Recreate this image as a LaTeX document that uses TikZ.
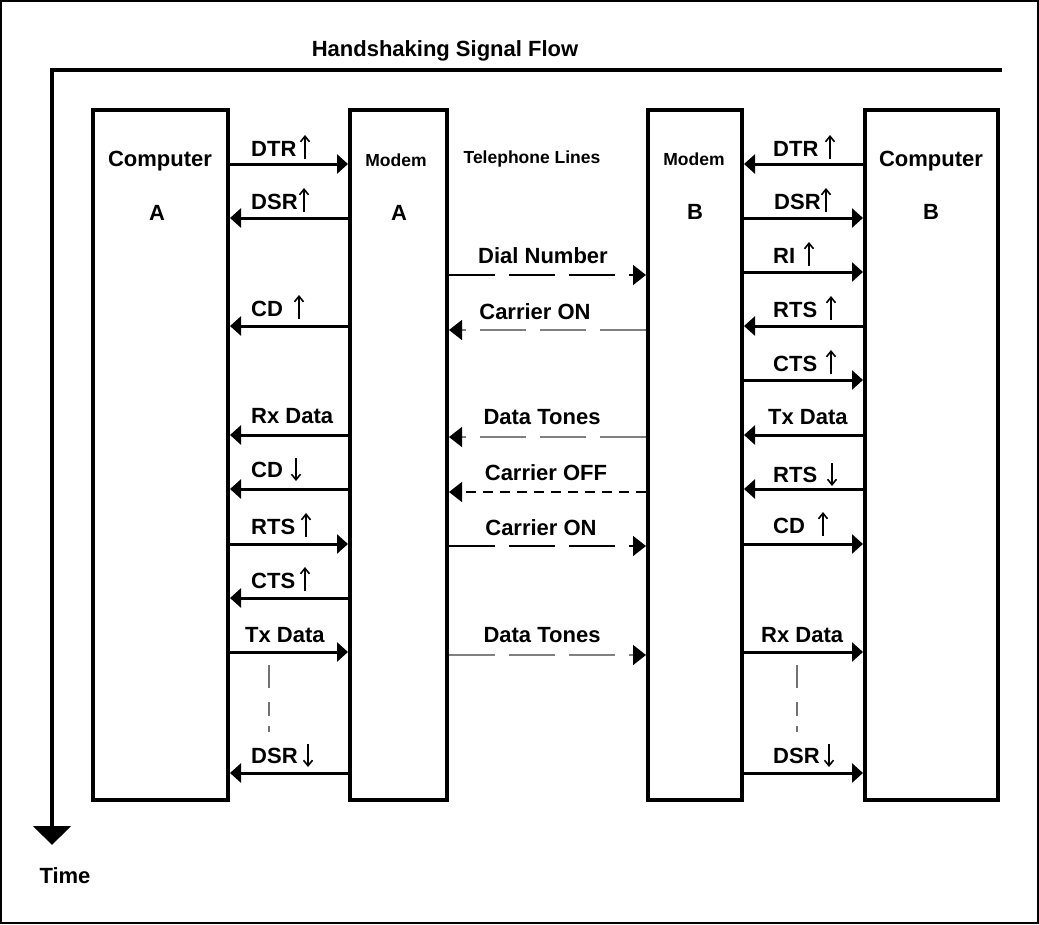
\documentclass[tikz,border=0pt]{standalone}
\usepackage{fontspec}
\setmainfont{Liberation Sans}
\usetikzlibrary{arrows.meta}
\newcommand\myup[2]{\draw[glyph] (#1,#2+3) -- (#1,#2-21);}
\newcommand\mydn[2]{\draw[glyph] (#1,#2-19) -- (#1,#2+4);}
\begin{document}
\begin{tikzpicture}[x=1pt,y=-1pt,
  box/.style={draw,line width=4pt,minimum width=#1,minimum height=690pt,inner sep=0pt},
  big/.style={font=\fontsize{22}{26}\selectfont\bfseries,inner sep=0pt,anchor=base},
  lbl/.style={big,anchor=base west},
  small/.style={font=\fontsize{17.5}{21}\selectfont\bfseries,inner sep=0pt,anchor=base},
  glyph/.style={line width=1.6pt,-{Straight Barb[length=5.5pt,width=9pt]}},
  sig/.style={line width=3pt,-{Triangle[length=11pt,width=19pt]}},
  tel/.style={line width=1.5pt,dash pattern=on 46pt off 14pt,-{Triangle[length=13pt,width=20pt,color=black]}},
  telg/.style={tel,draw=black!50},
  telshort/.style={line width=1.5pt,dash pattern=on 10pt off 7pt,-{Triangle[length=13pt,width=20pt]}},
  vdash/.style={line width=1.5pt,draw=black!55,dash pattern=on 23pt off 14pt on 14pt off 10pt on 6pt off 100pt},
  axis/.style={line width=4.5pt,-{Triangle[length=19pt,width=37pt]}}
]
\useasboundingbox (0,0) rectangle (1039,924);
\draw[line width=2pt] (1,1) rectangle (1038,923);

% time axis
\coordinate (axR) at (1002,70);
\coordinate (axC) at (52,70);
\coordinate (axB) at (52,845);
\draw[axis] (axR) -- (axC) -- (axB);
\node[big] (title) at (445,56) {Handshaking Signal Flow};
\node[big] (time) at (65,883) {Time};

% boxes
\node[box=135pt] (cA) at (160.5,455) {};
\node[box=97pt]  (mA) at (398.5,455) {};
\node[box=94pt]  (mB) at (695,455) {};
\node[box=133pt] (cB) at (931.5,455) {};

\node[big] (cAt) at (160,166) {Computer};
\node[big] (cAl) at (157,220) {A};
\node[small] (mAt) at (396,166) {Modem};
\node[big] (mAl) at (399,220) {A};
\node[small] (tel) at (532,163) {Telephone Lines};
\node[small] (mBt) at (694,165) {Modem};
\node[big] (mBl) at (695,219) {B};
\node[big] (cBt) at (931,166) {Computer};
\node[big] (cBl) at (931,219) {B};

% left side signals
\draw[sig] (cA.east |- 0,164) -- (mA.west |- 0,164);
\node[lbl] (l1) at (251,156) {DTR};
\myup{305}{156}
\draw[sig] (mA.west |- 0,218) -- (cA.east |- 0,218);
\node[lbl] (l2) at (251,209) {DSR};
\myup{304}{209}
\draw[sig] (mA.west |- 0,326) -- (cA.east |- 0,326);
\node[lbl] (l3) at (251,316) {CD};
\myup{299}{316}
\draw[sig] (mA.west |- 0,435) -- (cA.east |- 0,435);
\node[lbl] (l4) at (251,423) {Rx Data};
\draw[sig] (mA.west |- 0,489) -- (cA.east |- 0,489);
\node[lbl] (l5) at (251,477) {CD};
\mydn{296}{477}
\draw[sig] (cA.east |- 0,544) -- (mA.west |- 0,544);
\node[lbl] (l6) at (251,534) {RTS};
\myup{306}{534}
\draw[sig] (mA.west |- 0,598) -- (cA.east |- 0,598);
\node[lbl] (l7) at (251,588) {CTS};
\myup{305}{588}
\draw[sig] (cA.east |- 0,652) -- (mA.west |- 0,652);
\node[lbl] (l8) at (245,642) {Tx Data};
\coordinate (vA1) at (269,665);
\coordinate (vA2) at (269,735);
\draw[vdash] (vA1) -- (vA2);
\draw[sig] (mA.west |- 0,773) -- (cA.east |- 0,773);
\node[lbl] (l9) at (251,763) {DSR};
\mydn{308}{763}

% telephone lines
\draw[tel] (mA.east |- 0,275) -- (mB.west |- 0,275);
\node[big] (m1) at (543,263) {Dial Number};
\draw[telg] (mB.west |- 0,330) -- (mA.east |- 0,330);
\node[big] (m2) at (535,319) {Carrier ON};
\draw[telg] (mB.west |- 0,437) -- (mA.east |- 0,437);
\node[big] (m3) at (542,424) {Data Tones};
\draw[telshort] (mB.west |- 0,492) -- (mA.east |- 0,492);
\node[big] (m4) at (546,480) {Carrier OFF};
\draw[tel] (mA.east |- 0,546) -- (mB.west |- 0,546);
\node[big] (m5) at (541,535) {Carrier ON};
\draw[telg] (mA.east |- 0,655) -- (mB.west |- 0,655);
\node[big] (m6) at (542,642) {Data Tones};

% right side signals
\draw[sig] (cB.west |- 0,164) -- (mB.east |- 0,164);
\node[lbl] (r1) at (773,156) {DTR};
\myup{830}{156}
\draw[sig] (mB.east |- 0,218) -- (cB.west |- 0,218);
\node[lbl] (r2) at (774,209) {DSR};
\myup{826}{209}
\draw[sig] (mB.east |- 0,272) -- (cB.west |- 0,272);
\node[lbl] (r3) at (773,263) {RI};
\myup{809}{263}
\draw[sig] (cB.west |- 0,326) -- (mB.east |- 0,326);
\node[lbl] (r4) at (773,317) {RTS};
\myup{831}{317}
\draw[sig] (mB.east |- 0,380) -- (cB.west |- 0,380);
\node[lbl] (r5) at (773,371) {CTS};
\myup{831}{371}
\draw[sig] (cB.west |- 0,435) -- (mB.east |- 0,435);
\node[lbl] (r6) at (768,424) {Tx Data};
\draw[sig] (cB.west |- 0,489) -- (mB.east |- 0,489);
\node[lbl] (r7) at (773,482) {RTS};
\mydn{832}{482}
\draw[sig] (mB.east |- 0,544) -- (cB.west |- 0,544);
\node[lbl] (r8) at (773,533) {CD};
\myup{823}{533}
\draw[sig] (mB.east |- 0,652) -- (cB.west |- 0,652);
\node[lbl] (r9) at (761,642) {Rx Data};
\coordinate (vB1) at (797,665);
\coordinate (vB2) at (797,735);
\draw[vdash] (vB1) -- (vB2);
\draw[sig] (mB.east |- 0,773) -- (cB.west |- 0,773);
\node[lbl] (r10) at (773,763) {DSR};
\mydn{829}{763}
\end{tikzpicture}
\end{document}
